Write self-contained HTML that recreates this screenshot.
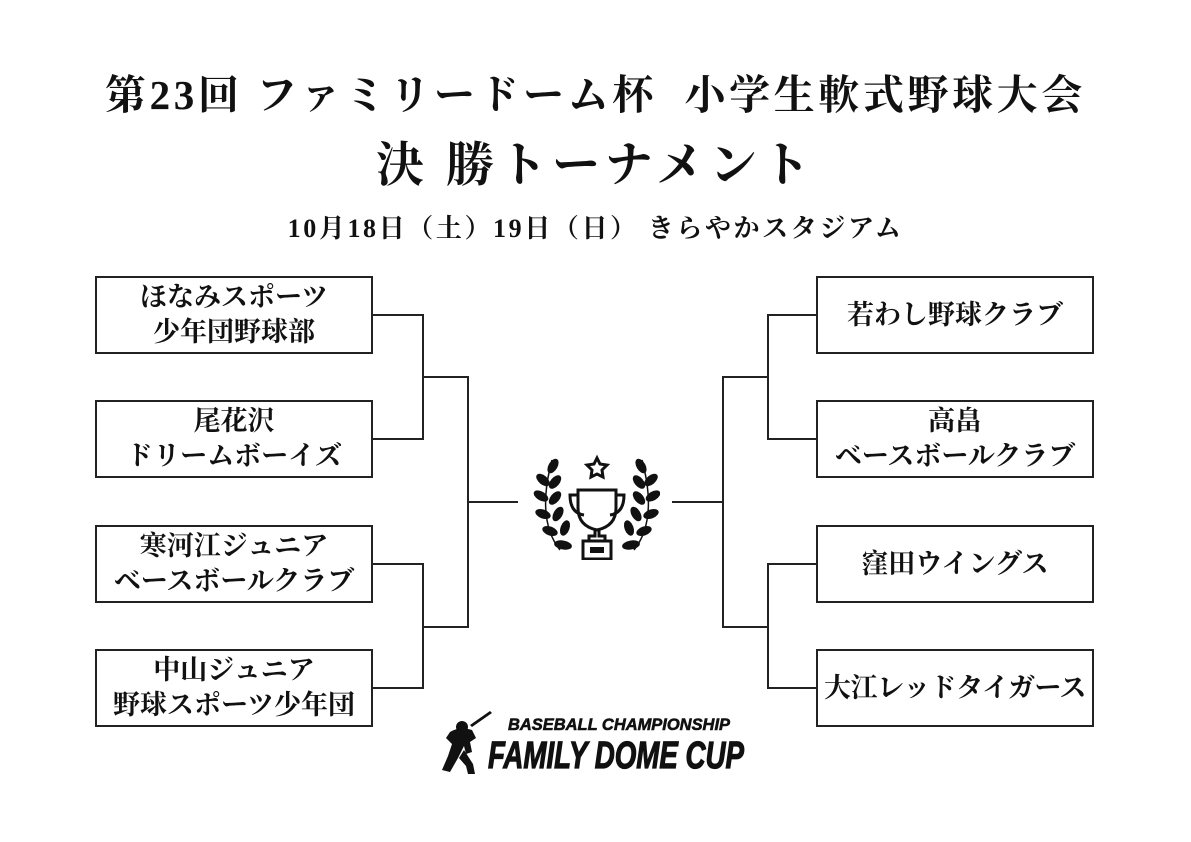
<!DOCTYPE html>
<html><head><meta charset="utf-8"><style>
html,body{margin:0;padding:0;background:#fff;}
body{width:1191px;height:842px;position:relative;overflow:hidden;font-family:"Liberation Serif","Noto Serif CJK SC",serif;color:#111;}
.t{position:absolute;left:0;width:1191px;text-align:center;font-weight:bold;white-space:nowrap;}
.box{position:absolute;width:274px;height:74px;border:2px solid #222;display:flex;align-items:center;justify-content:center;text-align:center;font-weight:bold;font-size:27px;line-height:35px;white-space:nowrap;}
.l{position:absolute;background:#222;}
</style></head><body>
<div class="t" style="top:70px;font-size:41px;line-height:50px;letter-spacing:3.6px;">第23回 ファミリードーム杯&nbsp;&nbsp;小学生軟式野球大会</div>
<div class="t" style="top:138px;font-size:48px;line-height:56px;letter-spacing:5px;">決 勝トーナメント</div>
<div class="t" style="top:212px;font-size:26px;line-height:34px;letter-spacing:2.6px;">10月18日（土）19日（日）&nbsp;きらやかスタジアム</div>

<div class="box" style="left:95px;top:276px;">ほなみスポーツ<br>少年団野球部</div>
<div class="box" style="left:95px;top:400px;">尾花沢<br>ドリームボーイズ</div>
<div class="box" style="left:95px;top:525px;">寒河江ジュニア<br>ベースボールクラブ</div>
<div class="box" style="left:95px;top:649px;">中山ジュニア<br>野球スポーツ少年団</div>

<div class="box" style="left:816px;top:276px;">若わし野球クラブ</div>
<div class="box" style="left:816px;top:400px;">高畠<br>ベースボールクラブ</div>
<div class="box" style="left:816px;top:525px;">窪田ウイングス</div>
<div class="box" style="left:816px;top:649px;letter-spacing:-0.5px;">大江レッドタイガース</div>

<div class="l" style="left:373px;top:314px;width:51px;height:2px;"></div>
<div class="l" style="left:373px;top:438px;width:51px;height:2px;"></div>
<div class="l" style="left:422px;top:314px;width:2px;height:126px;"></div>
<div class="l" style="left:373px;top:563px;width:51px;height:2px;"></div>
<div class="l" style="left:373px;top:687px;width:51px;height:2px;"></div>
<div class="l" style="left:422px;top:563px;width:2px;height:126px;"></div>
<div class="l" style="left:422px;top:376px;width:47px;height:2px;"></div>
<div class="l" style="left:422px;top:626px;width:47px;height:2px;"></div>
<div class="l" style="left:467px;top:376px;width:2px;height:252px;"></div>
<div class="l" style="left:467px;top:501px;width:51px;height:2px;"></div>
<div class="l" style="left:767px;top:314px;width:51px;height:2px;"></div>
<div class="l" style="left:767px;top:438px;width:51px;height:2px;"></div>
<div class="l" style="left:767px;top:314px;width:2px;height:126px;"></div>
<div class="l" style="left:767px;top:563px;width:51px;height:2px;"></div>
<div class="l" style="left:767px;top:687px;width:51px;height:2px;"></div>
<div class="l" style="left:767px;top:563px;width:2px;height:126px;"></div>
<div class="l" style="left:722px;top:376px;width:47px;height:2px;"></div>
<div class="l" style="left:722px;top:626px;width:47px;height:2px;"></div>
<div class="l" style="left:722px;top:376px;width:2px;height:252px;"></div>
<div class="l" style="left:672px;top:501px;width:52px;height:2px;"></div>

<svg style="position:absolute;left:530px;top:450px;" width="130" height="110" viewBox="0 0 130 110">
 <g fill="none" stroke="#111" stroke-width="3">
  <polygon points="67,8 70,14 77,15 72,20 73,27 67,24 61,27 62,20 57,15 64,14"/>
  <path d="M48,40 h38 v18 q0,18 -19,22 q-19,-4 -19,-22 z"/>
  <path d="M48,45 h-8 q0,18 14,20"/>
  <path d="M86,45 h8 q0,18 -14,20"/>
  <path d="M65,80 v6 h-6 v5 h16 v-5 h-6 v-6"/>
  <rect x="53" y="91" width="28" height="18"/>
 </g>
 <rect x="60" y="97" width="14" height="6" fill="#111"/>
 <g fill="#111">
  <path d="M30,100 q-24,-30 -8,-90" fill="none" stroke="#111" stroke-width="1.5"/>
  <path d="M104,100 q24,-30 8,-90" fill="none" stroke="#111" stroke-width="1.5"/>
  <ellipse cx="23" cy="16" rx="4.5" ry="8" transform="rotate(30 23 16)"/>
  <ellipse cx="13" cy="30" rx="4.5" ry="8" transform="rotate(-50 13 30)"/>
  <ellipse cx="25" cy="32" rx="4.5" ry="8" transform="rotate(40 25 32)"/>
  <ellipse cx="11" cy="46" rx="4.5" ry="8" transform="rotate(-60 11 46)"/>
  <ellipse cx="25" cy="48" rx="4.5" ry="8" transform="rotate(40 25 48)"/>
  <ellipse cx="13" cy="64" rx="4.5" ry="8" transform="rotate(-70 13 64)"/>
  <ellipse cx="28" cy="64" rx="4.5" ry="8" transform="rotate(30 28 64)"/>
  <ellipse cx="20" cy="81" rx="4.5" ry="8" transform="rotate(-70 20 81)"/>
  <ellipse cx="35" cy="78" rx="4.5" ry="8" transform="rotate(20 35 78)"/>
  <ellipse cx="33" cy="95" rx="4.5" ry="9" transform="rotate(-80 33 95)"/>
  <ellipse cx="111" cy="16" rx="4.5" ry="8" transform="rotate(-30 111 16)"/>
  <ellipse cx="121" cy="30" rx="4.5" ry="8" transform="rotate(50 121 30)"/>
  <ellipse cx="109" cy="32" rx="4.5" ry="8" transform="rotate(-40 109 32)"/>
  <ellipse cx="123" cy="46" rx="4.5" ry="8" transform="rotate(60 123 46)"/>
  <ellipse cx="109" cy="48" rx="4.5" ry="8" transform="rotate(-40 109 48)"/>
  <ellipse cx="121" cy="64" rx="4.5" ry="8" transform="rotate(70 121 64)"/>
  <ellipse cx="106" cy="64" rx="4.5" ry="8" transform="rotate(-30 106 64)"/>
  <ellipse cx="114" cy="81" rx="4.5" ry="8" transform="rotate(70 114 81)"/>
  <ellipse cx="99" cy="78" rx="4.5" ry="8" transform="rotate(-20 99 78)"/>
  <ellipse cx="101" cy="95" rx="4.5" ry="9" transform="rotate(80 101 95)"/>
 </g>
</svg>

<svg style="position:absolute;left:440px;top:708px;" width="310" height="66" viewBox="0 0 310 66">
 <g fill="#111">
  <path d="M50,3 l2,2 -20,14 -2,-2z"/>
  <circle cx="22" cy="19" r="6"/>
  <path d="M10,24 q10,-6 22,-2 l4,8 -6,4 2,10 -6,2 -2,-8 -6,12 -8,14 -8,-2 6,-14 4,-12 -6,-6 z"/>
  <path d="M24,42 l9,14 2,10 -7,0 -2,-8 -7,-8z"/>
 </g>
 <text x="68" y="22" font-family="'Liberation Sans',sans-serif" font-weight="bold" font-style="italic" font-size="17" fill="#111" stroke="#111" stroke-width="0.6" textLength="222" lengthAdjust="spacingAndGlyphs">BASEBALL CHAMPIONSHIP</text>
 <text x="48" y="60" font-family="'Liberation Sans',sans-serif" font-weight="bold" font-style="italic" font-size="38" fill="#111" stroke="#111" stroke-width="1.2" textLength="256" lengthAdjust="spacingAndGlyphs">FAMILY DOME CUP</text>
</svg>
</body></html>
